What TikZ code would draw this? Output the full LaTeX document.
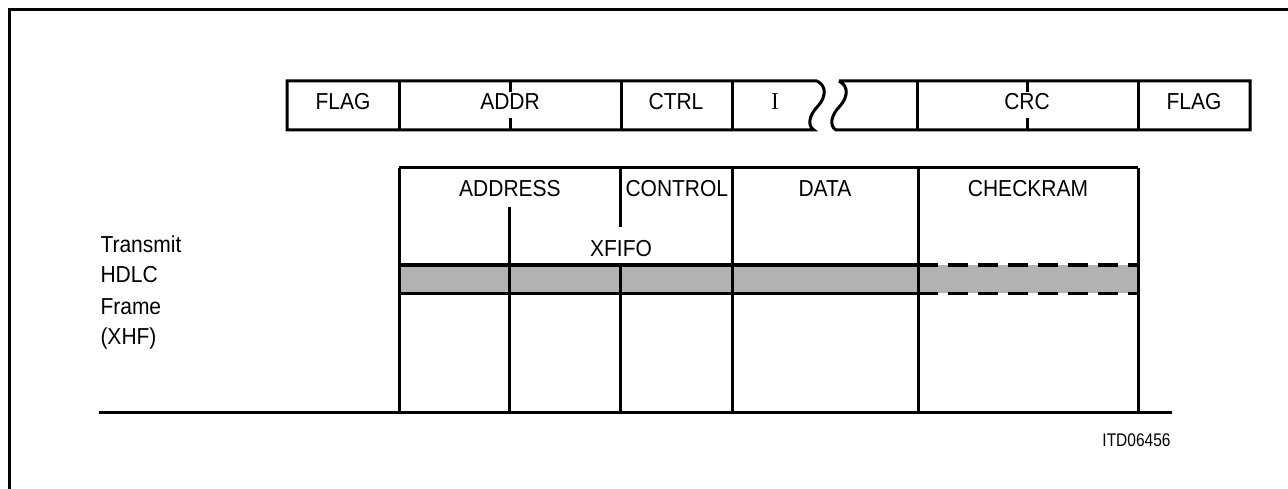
\documentclass[tikz,border=0pt]{standalone}
\usepackage{graphicx}
\usepackage{fontspec}
\setmainfont{Liberation Sans}
\newfontfamily\serifI{Liberation Serif}
\newcommand\tallt[1]{\scalebox{1}[1.1]{#1}}
\newcommand\tallnote[1]{\scalebox{1}[1.18]{#1}}
\begin{document}
\begin{tikzpicture}[x=1pt,y=-1pt,line width=3pt,
  lbl/.style={font=\fontsize{21}{25}\selectfont,inner sep=0pt,anchor=base},
  lblw/.style={lbl,anchor=base west},
  note/.style={font=\fontsize{15.5}{19}\selectfont,inner sep=0pt,anchor=base east},
  dashline/.style={dash pattern=on 20pt off 10pt},
  band/.style={fill=black!30,draw=none}]
\useasboundingbox (0,0) rectangle (1288,489);
% outer frame (only top and left visible)
\draw (9,489) -- (9,10) -- (1288,10);
% top frame row with break
\draw[line join=miter] (817,81) -- (287,81) -- (287,130) -- (814,130)
  .. controls (807,126) and (809,115) .. (818,106)
  .. controls (826,97) and (827,86) .. (817,81);
\draw[line join=miter] (839,81) -- (1250,81) -- (1250,130) -- (836,130)
  .. controls (829,126) and (831,115) .. (840,106)
  .. controls (848,97) and (849,86) .. (839,81);
\draw (399,81) -- (399,130);
\draw (621,81) -- (621,130);
\draw (732,81) -- (732,130);
\draw (917,81) -- (917,130);
\draw (1138,81) -- (1138,130);
\draw (510,81) -- (510,92);
\draw (510,118) -- (510,130);
\draw (1027,81) -- (1027,92);
\draw (1027,118) -- (1027,130);
\node[lbl] (flag1) at (343,110) {\tallt{FLAG}};
\node[lbl] (addr) at (510,110) {\tallt{ADDR}};
\node[lbl] (ctrl) at (676,110) {\tallt{CTRL}};
\node[lbl,font=\fontsize{22}{25}\serifI] (info) at (775,110) {\tallt{I}};
\node[lbl] (crc) at (1027,110) {\tallt{CRC}};
\node[lbl] (flag2) at (1194,110) {\tallt{FLAG}};
% XFIFO band
\path[band] (399,265) rectangle (1138,293);
\draw (399,265) -- (918,265);
\draw (399,293) -- (918,293);
\draw[dashline] (918,265) -- (1138,265);
\draw[dashline] (918,293) -- (1138,293);
% XFIFO box lines
\draw (399,168) -- (1138,168);
\draw (399,168) -- (399,412);
\draw (509,207) -- (509,412);
\draw (620,168) -- (620,227);
\draw (620,265) -- (620,412);
\draw (732,168) -- (732,412);
\draw (918,168) -- (918,412);
\draw (1138,168) -- (1138,412);
\draw (99,412) -- (1172,412);
\node[lbl] (address) at (510,197) {\tallt{ADDRESS}};
\node[lblw] (control) at (624,197) {\tallt{CONTROL}};
\node[lbl] (data) at (825,197) {\tallt{DATA}};
\node[lbl] (checkram) at (1028,197) {\tallt{CHECKRAM}};
\node[lbl] (xfifo) at (621,257) {\tallt{XFIFO}};
\node[lblw] (t1) at (99,253) {\tallt{Transmit}};
\node[lblw] (t2) at (99,283) {\tallt{HDLC}};
\node[lblw] (t3) at (99,314) {\tallt{Frame}};
\node[lblw] (t4) at (99,344) {\tallt{(XHF)}};
\node[note] (itd) at (1172,446) {\tallnote{ITD06456}};
\end{tikzpicture}
\end{document}
